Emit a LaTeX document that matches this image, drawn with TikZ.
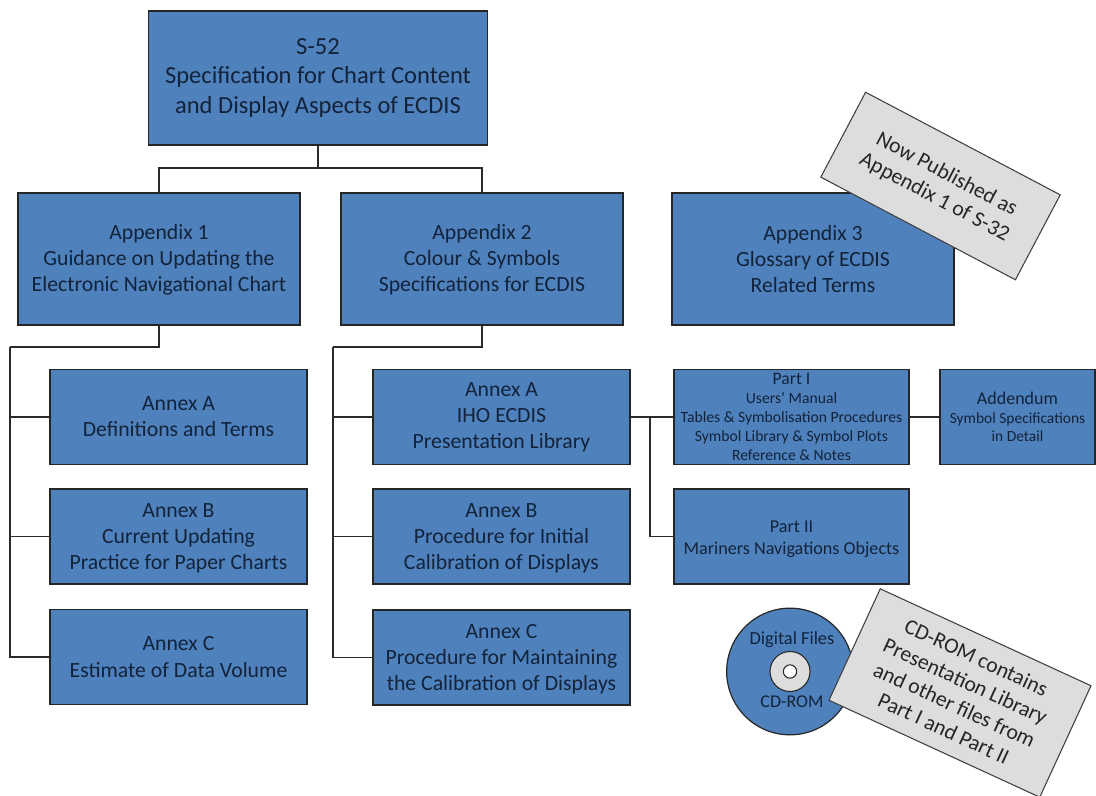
\documentclass[tikz,border=0pt]{standalone}
\usepackage{fontspec}
\setmainfont{Carlito}
\definecolor{boxblue}{HTML}{4F81BD}
\definecolor{boxgray}{HTML}{DDDDDD}
\definecolor{inktext}{HTML}{12233A}
\definecolor{wire}{HTML}{2A2A2A}
\newcommand{\fsz}[1]{\fontsize{#1}{\dimexpr#1pt*12/10\relax}\selectfont}
\tikzset{
  x=0.75pt,y=-0.75pt,
  bluebox/.style={draw=black!85,line width=1.1pt,fill=boxblue,inner sep=0pt,align=center,text=inktext},
  graybox/.style={draw=black!75,line width=0.8pt,fill=boxgray,inner sep=0pt,align=center,text=black!85},
  wireline/.style={draw=wire,line width=1.2pt},
  big/.style={bluebox,minimum width=211.5pt,minimum height=99pt,font=\fsz{16.3}},
  annex/.style={bluebox,minimum width=192.75pt,minimum height=71.25pt,font=\fsz{16.3}},
  part/.style={bluebox,minimum width=176.25pt,minimum height=71.25pt},
}
\begin{document}
\begin{tikzpicture}
\useasboundingbox (0,0) rectangle (1096,796);
\node[big,minimum width=254.25pt,minimum height=100.5pt,font=\fsz{18.4}] (root) at (318,78) {S-52\\Specification for Chart Content\\and Display Aspects of ECDIS};
\node[big] (app1) at (159,259) {\rule{0pt}{12.5pt}Appendix 1\\Guidance on Updating the\\Electronic Navigational Chart};
\node[big] (app2) at (482,259) {\rule{0pt}{12.5pt}Appendix 2\\Colour \& Symbols\\Specifications for ECDIS};
\node[big] (app3) at (813,259) {Appendix 3\\Glossary of ECDIS\\Related Terms};
\node[annex] (la) at (178.5,417) {Annex A\\Definitions and Terms};
\node[annex] (lb) at (178.5,536.5) {\rule{0pt}{12.5pt}Annex B\\Current Updating\\Practice for Paper Charts};
\node[annex] (lc) at (178.5,657) {Annex C\\Estimate of Data Volume};
\node[annex] (ma) at (501.5,417) {Annex A\\IHO ECDIS\\Presentation Library};
\node[annex] (mb) at (501.5,536.5) {\rule{0pt}{12.5pt}Annex B\\Procedure for Initial\\Calibration of Displays};
\node[annex] (mc) at (501.5,657.5) {\rule{0pt}{12.5pt}Annex C\\Procedure for Maintaining\\the Calibration of Displays};
\node[part,font=\fsz{11.75}] (p1) at (791.5,417) {{\fsz{13.2}Part I}\\Users' Manual\\Tables \& Symbolisation Procedures\\Symbol Library \& Symbol Plots\\Reference \& Notes};
\node[part,font=\fsz{13.6}] (p2) at (791.5,536.5) {\rule{0pt}{12.5pt}Part II\\Mariners Navigations Objects};
\node[bluebox,minimum width=116.25pt,minimum height=71.25pt,font=\fsz{11.6}] (add) at (1017.5,417) {{\fsz{13.5}Addendum}\\Symbol Specifications\\in Detail};
% connectors
\coordinate (rj) at (318,168);
\coordinate (lv) at (10,347);
\coordinate (mv) at (333,347);
\coordinate (pv) at (650,417);
\draw[wireline] (root.south) -- (rj);
\draw[wireline] (rj) -| (app1.north);
\draw[wireline] (rj) -| (app2.north);
\draw[wireline] (app1.south) |- (lv);
\draw[wireline] (app2.south) |- (mv);
\draw[wireline] (lv) |- (la.west);
\draw[wireline] (lv) |- (lb.west);
\draw[wireline] (lv) |- (lc.west);
\draw[wireline] (mv) |- (ma.west);
\draw[wireline] (mv) |- (mb.west);
\draw[wireline] (mv) |- (mc.west);
\draw[wireline] (ma.east) -- (p1.west);
\draw[wireline] (pv) |- (p2.west);
\draw[wireline] (p1.east) -- (add.west);
% disc
\node[circle,draw=black!85,line width=0.9pt,fill=boxblue,minimum size=95pt,inner sep=0pt] (disc) at (790,671.5) {};
\node[circle,draw=black!85,line width=0.8pt,fill=boxgray,minimum size=30pt,inner sep=0pt] (ring) at (disc.center) {};
\node[circle,draw=black!85,line width=0.8pt,fill=white,minimum size=10pt,inner sep=0pt] (hole) at (disc.center) {};
\node[font=\fsz{13.8},text=inktext,inner sep=0pt] (dtop) at (792,640) {Digital Files};
\node[font=\fsz{13.5},text=inktext,inner sep=0pt] (dbot) at (792,702) {CD-ROM};
% notes
\node[graybox,rotate=-27.8,minimum width=165pt,minimum height=72pt,font=\fsz{16.3}] (note1) at (940.5,186) {Now Published as\\Appendix 1 of S-32};
\node[graybox,rotate=-24.7,minimum width=174pt,minimum height=92pt,font=\fsz{16.3}] (note2) at (960,693) {CD-ROM contains\\Presentation Library\\and other files from\\Part I and Part II};
\end{tikzpicture}
\end{document}
